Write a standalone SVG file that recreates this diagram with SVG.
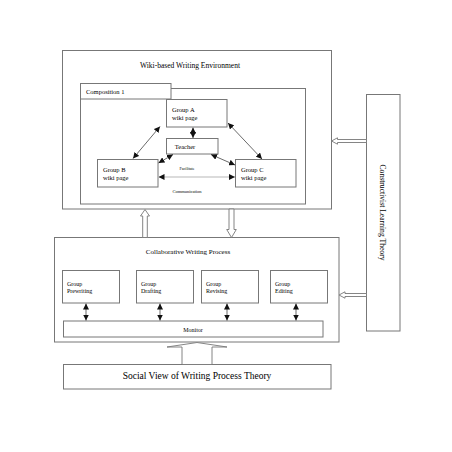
<svg xmlns="http://www.w3.org/2000/svg" width="452" height="452" viewBox="0 0 452 452">
<style>
.box{fill:#fff;stroke:#777;stroke-width:1}
.t{font-family:"Liberation Serif","Times New Roman",serif;fill:#000}
.ln{stroke:#444;stroke-width:0.8;fill:none}
.hol{fill:#fff;stroke:#777;stroke-width:0.9}
</style>
<defs>
<marker id="ah" viewBox="0 0 10 10" refX="10" refY="5" markerWidth="6" markerHeight="6" markerUnits="userSpaceOnUse" orient="auto-start-reverse">
<path d="M0,0 L10,5 L0,10 Z" fill="#111"/>
</marker>
</defs>
<rect width="452" height="452" fill="#fff"/>

<g id="wiki-env">
<rect class="box" x="62.5" y="50.5" width="269" height="158.5"/>
<text class="t" x="190" y="68" font-size="7.5" text-anchor="middle">Wiki-based Writing Environment</text>
</g>

<g id="composition">
<rect class="box" x="80.5" y="88.5" width="225" height="115.5"/>
<rect class="box" x="80.5" y="83.5" width="90.5" height="15.5"/>
<text class="t" x="86" y="93.5" font-size="6.5">Composition 1</text>
</g>

<g id="group-a">
<rect class="box" x="166.5" y="99.5" width="60.5" height="27.5"/>
<text class="t" x="172" y="112" font-size="6.5">Group A</text>
<text class="t" x="172" y="119.5" font-size="6.5">wiki page</text>
</g>

<g id="teacher">
<rect class="box" x="166.5" y="138.5" width="51.5" height="15.5"/>
<text class="t" x="185" y="149" font-size="6.5" text-anchor="middle">Teacher</text>
</g>

<g id="group-b">
<rect class="box" x="97.5" y="159.5" width="60.5" height="27.5"/>
<text class="t" x="103" y="172" font-size="6.5">Group B</text>
<text class="t" x="103" y="179.5" font-size="6.5">wiki page</text>
</g>

<g id="group-c">
<rect class="box" x="235.5" y="159.5" width="60.5" height="27.5"/>
<text class="t" x="241" y="172" font-size="6.5">Group C</text>
<text class="t" x="241" y="179.5" font-size="6.5">wiki page</text>
</g>

<g id="collab">
<rect class="box" x="54.5" y="237.5" width="284.5" height="104.5"/>
<text class="t" x="188" y="254" font-size="7" text-anchor="middle">Collaborative Writing Process</text>
</g>

<g id="prewriting">
<rect class="box" x="62.5" y="270.5" width="57" height="32.5"/>
<text class="t" x="67" y="286" font-size="6">Group</text>
<text class="t" x="67" y="292.5" font-size="6">Prewriting</text>
</g>
<g id="drafting">
<rect class="box" x="136.5" y="270.5" width="57" height="32.5"/>
<text class="t" x="141" y="286" font-size="6">Group</text>
<text class="t" x="141" y="292.5" font-size="6">Drafting</text>
</g>
<g id="revising">
<rect class="box" x="201.5" y="270.5" width="57" height="32.5"/>
<text class="t" x="206" y="286" font-size="6">Group</text>
<text class="t" x="206" y="292.5" font-size="6">Revising</text>
</g>
<g id="editing">
<rect class="box" x="270.5" y="270.5" width="57" height="32.5"/>
<text class="t" x="275" y="286" font-size="6">Group</text>
<text class="t" x="275" y="292.5" font-size="6">Editing</text>
</g>

<g id="monitor">
<rect class="box" x="63.5" y="321" width="259.5" height="16"/>
<text class="t" x="193" y="331.5" font-size="6" text-anchor="middle">Monitor</text>
</g>

<g id="social">
<rect class="box" x="63.5" y="364.5" width="267.5" height="24.5"/>
<text class="t" x="197" y="379" font-size="9.5" text-anchor="middle">Social View of Writing Process Theory</text>
</g>

<g id="constructivist">
<rect class="box" x="366.5" y="94.5" width="33.5" height="236.5"/>
<text class="t" transform="translate(380,212.5) rotate(90)" font-size="8" text-anchor="middle" textLength="96" lengthAdjust="spacingAndGlyphs">Constructivist Learning Theory</text>
</g>

<g id="connectors">
<line class="ln" x1="160" y1="126.5" x2="133" y2="158.5" marker-start="url(#ah)" marker-end="url(#ah)"/>
<line class="ln" x1="228" y1="123" x2="262" y2="159" marker-start="url(#ah)" marker-end="url(#ah)"/>
<line class="ln" x1="193" y1="127.5" x2="193" y2="138" marker-start="url(#ah)" marker-end="url(#ah)"/>
<line class="ln" x1="173" y1="154.5" x2="158.5" y2="163" marker-start="url(#ah)" marker-end="url(#ah)"/>
<line class="ln" x1="211" y1="154.5" x2="235" y2="165" marker-start="url(#ah)" marker-end="url(#ah)"/>
<line x1="158.5" y1="177" x2="235" y2="177" stroke="#999" stroke-width="0.7" marker-start="url(#ah)" marker-end="url(#ah)"/>
<text class="t" x="187" y="169.5" font-size="4" text-anchor="middle" fill="#444">Facilitate</text>
<text class="t" x="187" y="192.5" font-size="4.5" text-anchor="middle" fill="#444">Communication</text>

<line class="ln" x1="86" y1="303.5" x2="86" y2="320.5" marker-start="url(#ah)" marker-end="url(#ah)"/>
<line class="ln" x1="160" y1="303.5" x2="160" y2="320.5" marker-start="url(#ah)" marker-end="url(#ah)"/>
<line class="ln" x1="227" y1="303.5" x2="227" y2="320.5" marker-start="url(#ah)" marker-end="url(#ah)"/>
<line class="ln" x1="296" y1="303.5" x2="296" y2="320.5" marker-start="url(#ah)" marker-end="url(#ah)"/>

<polygon class="hol" points="145,209.5 149.5,216 147.3,216 147.3,237.5 142.7,237.5 142.7,216 140.5,216"/>
<polygon class="hol" points="229,209 234,209 234,229.5 236.3,229.5 231.5,237.5 226.7,229.5 229,229.5"/>
<polygon class="hol" points="366.5,139.5 337.5,139.5 337.5,137.8 331.5,141 337.5,144.2 337.5,142.5 366.5,142.5"/>
<polygon class="hol" points="366.5,293.5 345,293.5 345,291.8 339,295 345,298.2 345,296.5 366.5,296.5"/>
<polygon class="hol" points="197,342.5 227,347 212,347 212,364.5 182,364.5 182,347 167,347"/>
</g>
</svg>
